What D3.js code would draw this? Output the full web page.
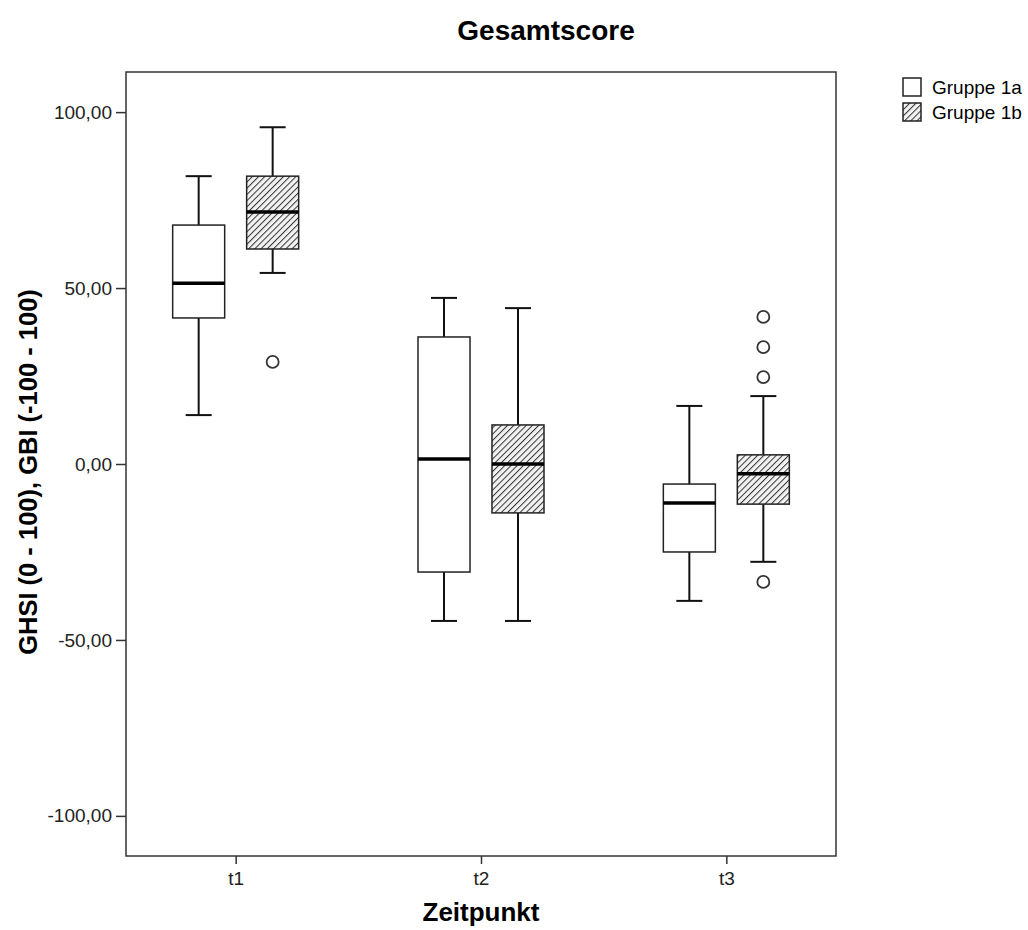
<!DOCTYPE html>
<meta charset="utf-8">
<script src="https://d3js.org/d3.v7.min.js"></script>
<style>
    body { margin: 0; background: #fff; }
    text { font-family: "Liberation Sans", Arial, sans-serif; }
</style>
<div id="my_dataviz"></div>
<script>
    // categories and groups
    var categories = ["t1", "t2", "t3"];
    var groups = ["Gruppe 1a", "Gruppe 1b"];

    // box statistics per group, in category order
    var whiskerLow = { "Gruppe 1a": [13.9, -44.6, -38.9], "Gruppe 1b": [54.3, -44.6, -27.8] };
    var q1 = { "Gruppe 1a": [41.5, -30.7, -25.0], "Gruppe 1b": [61.1, -13.9, -11.4] };
    var median = { "Gruppe 1a": [51.4, 1.4, -11.1], "Gruppe 1b": [71.6, 0.0, -2.8] };
    var q3 = { "Gruppe 1a": [67.9, 36.1, -5.7], "Gruppe 1b": [81.8, 11.1, 2.6] };
    var whiskerHigh = { "Gruppe 1a": [81.8, 47.2, 16.5], "Gruppe 1b": [95.7, 44.3, 19.3] };

    // outliers: [category, group, value]
    var outliers = [
        ["t1", "Gruppe 1b", 29.0],
        ["t3", "Gruppe 1b", 41.8],
        ["t3", "Gruppe 1b", 33.2],
        ["t3", "Gruppe 1b", 24.7],
        ["t3", "Gruppe 1b", -33.5]
    ];

    var yTicks = [-100, -50, 0, 50, 100];

    var W = 1028, H = 930;
    var margin = { top: 72, right: 192, bottom: 74, left: 126 };
    var width = W - margin.left - margin.right,
        height = H - margin.top - margin.bottom;

    var svgRoot = d3.select("#my_dataviz").append("svg")
        .attr("width", W).attr("height", H);

    // hatch pattern
    var defs = svgRoot.append("defs");
    var pat = defs.append("pattern")
        .attr("id", "hatch")
        .attr("patternUnits", "userSpaceOnUse")
        .attr("width", 4.4).attr("height", 4.4)
        .attr("patternTransform", "rotate(45)");
    pat.append("rect").attr("width", 4.4).attr("height", 4.4).attr("fill", "#f2f2f2");
    pat.append("line").attr("x1", 0).attr("y1", 0).attr("x2", 0).attr("y2", 4.4)
        .attr("stroke", "#333").attr("stroke-width", 2);

    var fills = { "Gruppe 1a": "#fff", "Gruppe 1b": "url(#hatch)" };

    var svg = svgRoot.append("g")
        .attr("transform", "translate(" + margin.left + "," + margin.top + ")");

    var x = d3.scalePoint().domain(categories).range([0, width]).padding(0.447);
    var x1 = d3.scaleBand().domain(groups).range([-63, 63]).paddingInner(0.297).paddingOuter(0);
    var y = d3.scaleLinear().domain([-111.4, 111.4]).range([height, 0]);

    // frame
    svg.append("rect").attr("width", width).attr("height", height)
        .attr("fill", "none").attr("stroke", "#333").attr("stroke-width", 1.5);

    // axes
    var fmt = function (d) { return d3.format(".2f")(Math.abs(d)).replace(".", ",").replace(/^/, d < 0 ? "-" : ""); };
    var yAxis = svg.append("g")
        .call(d3.axisLeft(y).tickValues(yTicks).tickFormat(fmt).tickSize(10).tickSizeOuter(0));
    var xAxis = svg.append("g")
        .attr("transform", "translate(0," + height + ")")
        .call(d3.axisBottom(x).tickSize(8).tickSizeOuter(0));
    [yAxis, xAxis].forEach(function (a) {
        a.select(".domain").remove();
        a.selectAll("line").attr("stroke", "#333").attr("stroke-width", 1.5);
        a.selectAll("text").attr("font-size", 19).attr("fill", "#222")
            .attr("font-family", "Liberation Sans, Arial, sans-serif");
    });
    yAxis.selectAll("text").attr("dx", "-1");
    xAxis.selectAll("text").attr("dy", "0.95em");

    // boxes
    var boxW = x1.bandwidth();
    groups.forEach(function (g) {
        categories.forEach(function (c, i) {
            var cx = x(c) + x1(g) + boxW / 2;
            var gg = svg.append("g");
            // whiskers
            gg.append("line").attr("x1", cx).attr("x2", cx)
                .attr("y1", y(whiskerHigh[g][i])).attr("y2", y(q3[g][i]))
                .attr("stroke", "#111").attr("stroke-width", 2);
            gg.append("line").attr("x1", cx).attr("x2", cx)
                .attr("y1", y(q1[g][i])).attr("y2", y(whiskerLow[g][i]))
                .attr("stroke", "#111").attr("stroke-width", 2);
            [whiskerHigh[g][i], whiskerLow[g][i]].forEach(function (v) {
                gg.append("line").attr("x1", cx - boxW / 4).attr("x2", cx + boxW / 4)
                    .attr("y1", y(v)).attr("y2", y(v))
                    .attr("stroke", "#111").attr("stroke-width", 2);
            });
            // box
            gg.append("rect")
                .attr("x", cx - boxW / 2).attr("width", boxW)
                .attr("y", y(q3[g][i])).attr("height", y(q1[g][i]) - y(q3[g][i]))
                .attr("fill", fills[g]).attr("stroke", "#222").attr("stroke-width", 1.5);
            // median
            gg.append("line").attr("x1", cx - boxW / 2).attr("x2", cx + boxW / 2)
                .attr("y1", y(median[g][i])).attr("y2", y(median[g][i]))
                .attr("stroke", "#000").attr("stroke-width", 3.5);
        });
    });

    // outliers
    svg.selectAll(".outlier").data(outliers).enter().append("circle")
        .attr("class", "outlier")
        .attr("cx", function (d) { return x(d[0]) + x1(d[1]) + boxW / 2; })
        .attr("cy", function (d) { return y(d[2]); })
        .attr("r", 6)
        .attr("fill", "#fff").attr("stroke", "#333").attr("stroke-width", 1.8);

    // titles
    svgRoot.append("text").attr("x", 546).attr("y", 40)
        .attr("text-anchor", "middle").attr("font-size", 28).attr("font-weight", "bold")
        .text("Gesamtscore");
    svgRoot.append("text").attr("x", margin.left + width / 2).attr("y", 921)
        .attr("text-anchor", "middle").attr("font-size", 26).attr("font-weight", "bold")
        .text("Zeitpunkt");
    svgRoot.append("text")
        .attr("transform", "translate(37,472) rotate(-90)")
        .attr("text-anchor", "middle").attr("font-size", 25.5).attr("font-weight", "bold")
        .text("GHSI (0 - 100), GBI (-100 - 100)");

    // legend
    var legend = svgRoot.append("g").attr("transform", "translate(903,78)");
    groups.forEach(function (g, i) {
        var row = legend.append("g").attr("transform", "translate(0," + (i * 25) + ")");
        row.append("rect").attr("width", 18).attr("height", 18)
            .attr("fill", fills[g]).attr("stroke", "#222").attr("stroke-width", 1.5);
        row.append("text").attr("x", 29).attr("y", 16).attr("font-size", 19).text(g);
    });
</script>
